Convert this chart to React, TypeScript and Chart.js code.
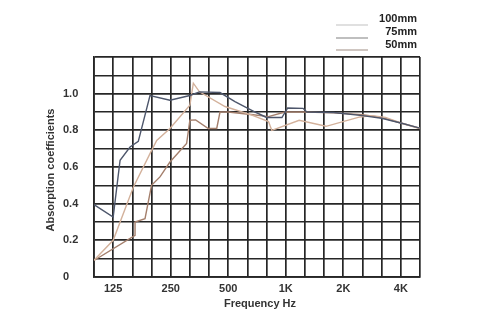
import React, { useEffect, useRef } from "react";
import { Chart, registerables } from "chart.js";

Chart.register(...registerables);

// Third-octave band centres (x axis positions are band indices 0..17)
const bandLabels = ["100", "125", "160", "200", "250", "315", "400", "500", "630", "800", "1K", "1.25K", "1.6K", "2K", "2.5K", "3.15K", "4K", "5K"];
const shownBandLabels = ["125", "250", "500", "1K", "2K", "4K"];
const shownYLabels = ["0", "0.2", "0.4", "0.6", "0.8", "1.0"];

const seriesNames = ["100mm", "75mm", "50mm"];

// [band index, absorption coefficient]
const series100mm: [number, number][] = [
  [0, 0.395], [1.0, 0.327], [1.36, 0.637], [1.88, 0.709], [2.31, 0.74], [2.92, 0.99],
  [3.96, 0.964], [5.0, 0.99], [5.5, 1.01], [6.57, 1.006], [7.35, 0.957], [8.4, 0.9],
  [9.0, 0.87], [9.8, 0.87], [10.1, 0.922], [10.9, 0.92], [11.1, 0.9], [12.5, 0.897],
  [14.0, 0.88], [15.0, 0.866], [16.0, 0.84], [17.0, 0.812],
];
const series75mm: [number, number][] = [
  [0, 0.091], [1.0, 0.2], [2.05, 0.49], [2.92, 0.673], [3.27, 0.745], [3.96, 0.81],
  [5.0, 0.937], [5.18, 1.057], [5.5, 1.01], [6.83, 0.93], [8.2, 0.884], [9.1, 0.848],
  [9.27, 0.8], [10.7, 0.855], [12.1, 0.822], [13.87, 0.873], [14.5, 0.88], [15.2, 0.87],
  [16.0, 0.84], [17.0, 0.812],
];
const series50mm: [number, number][] = [
  [0, 0.09], [2.14, 0.227], [2.14, 0.3], [2.66, 0.318], [3.0, 0.5], [3.44, 0.546],
  [3.96, 0.627], [4.83, 0.728], [5.0, 0.855], [5.3, 0.857], [5.96, 0.81], [6.4, 0.81],
  [6.57, 0.9], [7.0, 0.9], [8.3, 0.885], [9.1, 0.875], [9.96, 0.9], [11.0, 0.9],
  [12.5, 0.895], [14.0, 0.885], [15.0, 0.87], [16.0, 0.84], [17.0, 0.81],
];

const lineColors = ["#4d566b", "#d3b19b", "#a47f6c"];
const legendColors = ["#cfcfcf", "#9c9c9c", "#b5a79f"];

const yTitle = "Absorption coefficients";
const xTitle = "Frequency Hz";

const FONT = "'Liberation Sans', Arial, sans-serif";

const overlayPlugin = {
  id: "overlay",
  afterDraw(chart: any) {
    const ctx = chart.ctx;
    const area = chart.chartArea;
    ctx.save();
    ctx.fillStyle = "#333";
    ctx.font = `bold 11px ${FONT}`;
    ctx.textAlign = "center";
    ctx.textBaseline = "middle";
    ctx.translate(51, 170);
    ctx.rotate(-Math.PI / 2);
    ctx.fillText(yTitle, 0, 0);
    ctx.restore();

    ctx.save();
    ctx.fillStyle = "#333";
    ctx.font = `bold 11px ${FONT}`;
    ctx.textAlign = "center";
    ctx.textBaseline = "middle";
    ctx.fillText(xTitle, (area.left + area.right) / 2 + 3, 304);
    ctx.restore();

    ctx.save();
    const lineYs = [25, 38, 50];
    const textYs = [19, 32, 45];
    seriesNames.forEach((name, i) => {
      ctx.strokeStyle = legendColors[i];
      ctx.lineWidth = 1.3;
      ctx.beginPath();
      ctx.moveTo(336, lineYs[i]);
      ctx.lineTo(368, lineYs[i]);
      ctx.stroke();
      ctx.fillStyle = "#222";
      ctx.font = `bold 11px ${FONT}`;
      ctx.textAlign = "right";
      ctx.textBaseline = "middle";
      ctx.fillText(name, 417, textYs[i]);
    });
    ctx.restore();
  },
};

export default function App() {
  const ref = useRef<HTMLCanvasElement>(null);
  useEffect(() => {
    if (!ref.current) return;
    const toPts = (s: [number, number][]) => s.map(([x, y]) => ({ x, y }));
    const all = [series100mm, series75mm, series50mm];
    const chart = new Chart(ref.current, {
      type: "line",
      data: {
        datasets: all.map((s, i) => ({
          label: seriesNames[i],
          data: toPts(s),
          borderColor: lineColors[i],
          borderWidth: 1.4,
          pointRadius: 0,
          tension: 0,
          fill: false,
        })),
      },
      options: {
        responsive: false,
        animation: false,
        layout: { padding: { left: 63, top: 57, right: 73, bottom: 0 } },
        plugins: { legend: { display: false }, tooltip: { enabled: false } },
        scales: {
          x: {
            type: "linear",
            min: 0,
            max: 17,
            afterFit: (scale: any) => { scale.height = 44; },
            afterBuildTicks: (scale: any) => {
              scale.ticks = bandLabels.map((_, i) => ({ value: i }));
            },
            grid: {
              color: "#262626",
              lineWidth: 1.7,
              drawTicks: false,
            },
            border: { color: "#262626", width: 1.7 },
            ticks: {
              autoSkip: false,
              maxRotation: 0,
              padding: 5,
              color: "#333",
              font: { family: FONT, size: 11, weight: "bold" },
              callback: (v: any) => {
                const lab = bandLabels[Math.round(Number(v))];
                return shownBandLabels.includes(lab) ? lab : "";
              },
            },
          },
          y: {
            min: 0,
            max: 1.2,
            afterFit: (scale: any) => { scale.width = 31; },
            afterBuildTicks: (scale: any) => {
              const t = [];
              for (let i = 0; i <= 12; i++) t.push({ value: i / 10 });
              scale.ticks = t;
            },
            grid: {
              color: "#262626",
              lineWidth: (c: any) => (Math.round((c.tick?.value ?? 0) * 10) % 2 === 0 ? 1.8 : 1.4),
              drawTicks: false,
            },
            border: { color: "#262626", width: 1.7 },
            ticks: {
              crossAlign: "far",
              color: "#333",
              font: { family: FONT, size: 11, weight: "bold" },
              callback: (v: any) => {
                const n = Math.round(Number(v) * 10);
                const lab = n === 0 ? "0" : (n / 10).toFixed(1);
                return shownYLabels.includes(lab) ? lab : "";
              },
            },
          },
        },
      },
      plugins: [overlayPlugin],
    } as any);
    return () => chart.destroy();
  }, []);
  return (
    <div style={{ position: "absolute", left: 0, top: 0, width: 493, height: 321, background: "#fff" }}>
      <canvas ref={ref} width={493} height={321} style={{ width: 493, height: 321 }} />
    </div>
  );
}
